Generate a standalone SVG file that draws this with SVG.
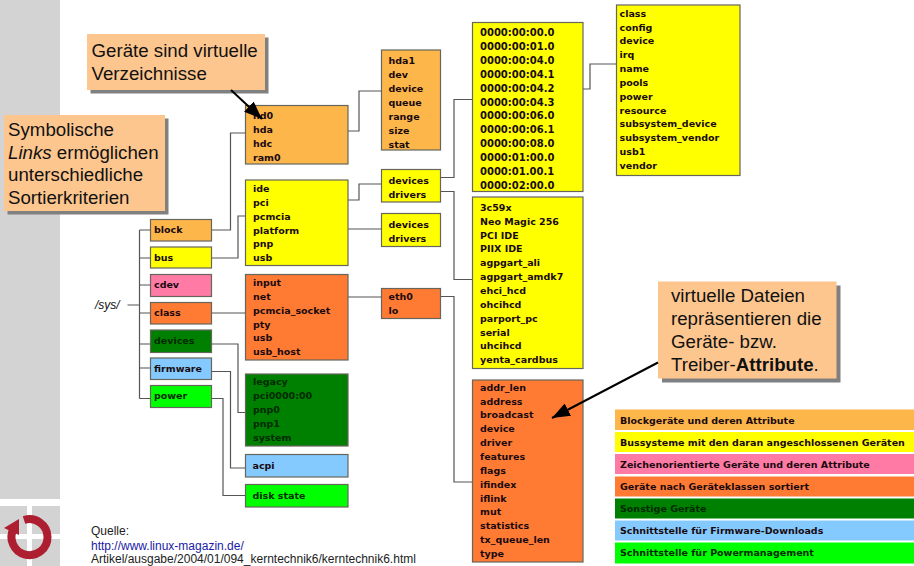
<svg xmlns="http://www.w3.org/2000/svg" width="914" height="566" viewBox="0 0 914 566">
<style>
.b{stroke:#66665c;stroke-width:1.2}
.lo{fill:#fdb64a}.ye{fill:#ffff00}.pi{fill:#ff7ba5}.or{fill:#ff7b33}.dg{fill:#008000}.lb{fill:#84caff}.gr{fill:#00ff00}
text{font-family:"Liberation Sans",Arial,sans-serif}
.t{font-family:"DejaVu Sans",sans-serif;font-weight:700;font-size:9.5px;fill:#1a0a10}
.d{fill:#002a00}
.c{font-size:18.7px;fill:#111}
.q{font-size:12px;fill:#222}
.l{fill:none;stroke:#555;stroke-width:1.2}
.sh{fill:#808080}.co{fill:#fdc68f}
</style>
<defs><marker id="ah" markerWidth="9" markerHeight="7" refX="9" refY="3.500" orient="auto"><path d="M0 0L9 3.500L0 7z" fill="#000"/></marker></defs>
<g id="sidebar">
<rect x="0" y="0" width="60" height="499" fill="#d3d3d3"/>
<rect x="0" y="506" width="60" height="60" fill="#d3d3d3"/>
<rect x="27" y="506" width="5" height="60" fill="#fff"/>
<rect x="0" y="534" width="60" height="5" fill="#fff"/>
<path d="M24 520A18 18 0 1 1 14 528" fill="none" stroke="#ad1f30" stroke-width="8"/>
<path d="M4 528L19 519L19 535z" fill="#ad1f30"/>
</g>
<g id="connectors">
<path class="l" d="M127.500 305H139.500M139.500 230V398.500M139.500 230H150M139.500 258H150M139.500 285H150M139.500 313H150M139.500 344H150M139.500 368H150M139.500 398.500H150"/>
<path class="l" d="M212 230H230.500V133H245"/>
<path class="l" d="M212 258H238V216H245"/>
<path class="l" d="M212 313H245"/>
<path class="l" d="M212 344H238V412.500H245"/>
<path class="l" d="M212 371.500H230.500V468H245"/>
<path class="l" d="M212 398.500H223V495.500H245"/>
<path class="l" d="M285 131H359V91H381"/>
<path class="l" d="M276 200H359V184H381"/>
<path class="l" d="M311 229H381"/>
<path class="l" d="M280 297H381"/>
<path class="l" d="M432 177.500H454V99.500H472"/>
<path class="l" d="M429 191.500H454V279.500H472"/>
<path class="l" d="M425 296.500H454V482H472"/>
<path class="l" d="M560 89H590V64H616"/>
</g>
<g id="n-block"><rect class="b lo" x="150.500" y="219.500" width="61" height="21.500"/><text class="t" x="154" y="233">block</text></g>
<g id="n-bus"><rect class="b ye" x="150.500" y="247" width="61" height="21"/><text class="t" x="154" y="260.500">bus</text></g>
<g id="n-cdev"><rect class="b pi" x="150.500" y="274.500" width="61" height="22"/><text class="t" x="154" y="288">cdev</text></g>
<g id="n-class"><rect class="b or" x="150.500" y="302.500" width="61" height="21.500"/><text class="t" x="154" y="316">class</text></g>
<g id="n-devices"><rect class="b dg" x="150.500" y="330" width="61" height="22.500"/><text class="t d" x="154" y="343.500">devices</text></g>
<g id="n-firmware"><rect class="b lb" x="150.500" y="358" width="61" height="21.500"/><text class="t" x="154" y="371.500">firmware</text></g>
<g id="n-power"><rect class="b gr" x="150.500" y="385.500" width="61" height="22"/><text class="t d" x="154" y="399">power</text></g>
<g id="n-sys"><text x="95" y="309" font-size="12" font-style="italic" fill="#111">/sys/</text></g>
<g id="n-hd"><rect class="b lo" x="245.500" y="105.500" width="102.500" height="58.500"/>
<text class="t" x="253" y="119">hd0</text><text class="t" x="253" y="133">hda</text><text class="t" x="253" y="147">hdc</text><text class="t" x="253" y="160.500">ram0</text></g>
<g id="n-hda1"><rect class="b lo" x="381.500" y="50" width="59" height="100"/>
<text class="t" x="388.500" y="64">hda1</text><text class="t" x="388.500" y="77.500">dev</text><text class="t" x="388.500" y="91.500">device</text><text class="t" x="388.500" y="105.500">queue</text><text class="t" x="388.500" y="119.500">range</text><text class="t" x="388.500" y="133.500">size</text><text class="t" x="388.500" y="147.500">stat</text></g>
<g id="n-buslist"><rect class="b ye" x="245.500" y="180" width="102.500" height="85.500"/>
<text class="t" x="253" y="191.500">ide</text><text class="t" x="253" y="205.500">pci</text><text class="t" x="253" y="219.500">pcmcia</text><text class="t" x="253" y="233.500">platform</text><text class="t" x="253" y="247">pnp</text><text class="t" x="253" y="260.500">usb</text></g>
<g id="n-pcidd"><rect class="b ye" x="381.500" y="169.500" width="59" height="32.500"/>
<text class="t" x="388.500" y="183.500">devices</text><text class="t" x="388.500" y="197.500">drivers</text></g>
<g id="n-platdd"><rect class="b ye" x="381.500" y="213.500" width="59" height="33"/>
<text class="t" x="388.500" y="227.500">devices</text><text class="t" x="388.500" y="241.500">drivers</text></g>
<g id="n-classlist"><rect class="b or" x="245.500" y="274.500" width="102.500" height="85.500"/>
<text class="t" x="253" y="286">input</text><text class="t" x="253" y="299.500">net</text><text class="t" x="253" y="313.500">pcmcia_socket</text><text class="t" x="253" y="327.500">pty</text><text class="t" x="253" y="340.500">usb</text><text class="t" x="253" y="354.500">usb_host</text></g>
<g id="n-eth"><rect class="b or" x="381.500" y="288.500" width="59" height="30"/>
<text class="t" x="388.500" y="299.500">eth0</text><text class="t" x="388.500" y="313.500">lo</text></g>
<g id="n-devlist"><rect class="b dg" x="245.500" y="374" width="102.500" height="72"/>
<text class="t d" x="253" y="385">legacy</text><text class="t d" x="253" y="399">pci0000:00</text><text class="t d" x="253" y="413">pnp0</text><text class="t d" x="253" y="426.500">pnp1</text><text class="t d" x="253" y="440.500">system</text></g>
<g id="n-acpi"><rect class="b lb" x="245.500" y="454.500" width="102.500" height="22.500"/><text class="t" x="252.500" y="468.500">acpi</text></g>
<g id="n-disk"><rect class="b gr" x="245.500" y="484.500" width="102.500" height="22.500"/><text class="t d" x="252.500" y="499">disk state</text></g>
<g id="n-pcilist"><rect class="b ye" x="472.500" y="22.500" width="110.500" height="169"/>
<g style="font-size:10px"><text class="t" style="font-size:10px" x="480" y="35.500">0000:00:00.0</text><text class="t" style="font-size:10px" x="480" y="49.500">0000:00:01.0</text><text class="t" style="font-size:10px" x="480" y="64">0000:00:04.0</text><text class="t" style="font-size:10px" x="480" y="77.500">0000:00:04.1</text><text class="t" style="font-size:10px" x="480" y="91.500">0000:00:04.2</text><text class="t" style="font-size:10px" x="480" y="105.500">0000:00:04.3</text><text class="t" style="font-size:10px" x="480" y="119">0000:00:06.0</text><text class="t" style="font-size:10px" x="480" y="132.500">0000:00:06.1</text><text class="t" style="font-size:10px" x="480" y="146.500">0000:00:08.0</text><text class="t" style="font-size:10px" x="480" y="160.500">0000:01:00.0</text><text class="t" style="font-size:10px" x="480" y="174.500">0000:01.00.1</text><text class="t" style="font-size:10px" x="480" y="188.500">0000:02:00.0</text></g></g>
<g id="n-drivers"><rect class="b ye" x="472.500" y="197" width="110.500" height="171.500"/>
<text class="t" x="480" y="210.500">3c59x</text><text class="t" x="480" y="224.500">Neo Magic 256</text><text class="t" x="480" y="238.500">PCI IDE</text><text class="t" x="480" y="252">PIIX IDE</text><text class="t" x="480" y="266">agpgart_ali</text><text class="t" x="480" y="280">agpgart_amdk7</text><text class="t" x="480" y="294">ehci_hcd</text><text class="t" x="480" y="307.500">ohcihcd</text><text class="t" x="480" y="321.500">parport_pc</text><text class="t" x="480" y="335.500">serial</text><text class="t" x="480" y="349">uhcihcd</text><text class="t" x="480" y="363">yenta_cardbus</text></g>
<g id="n-attrs"><rect class="b ye" x="616.500" y="5" width="123.500" height="170.500"/>
<text class="t" x="619.500" y="16.500">class</text><text class="t" x="619.500" y="30.500">config</text><text class="t" x="619.500" y="44">device</text><text class="t" x="619.500" y="58">irq</text><text class="t" x="619.500" y="72">name</text><text class="t" x="619.500" y="85.500">pools</text><text class="t" x="619.500" y="99.500">power</text><text class="t" x="619.500" y="113.500">resource</text><text class="t" x="619.500" y="127">subsystem_device</text><text class="t" x="619.500" y="141">subsystem_vendor</text><text class="t" x="619.500" y="154.500">usb1</text><text class="t" x="619.500" y="168.500">vendor</text></g>
<g id="n-netattrs"><rect class="b or" x="472.500" y="380" width="110.500" height="182"/>
<text class="t" x="480" y="390.500">addr_len</text><text class="t" x="480" y="404.500">address</text><text class="t" x="480" y="418">broadcast</text><text class="t" x="480" y="432">device</text><text class="t" x="480" y="446">driver</text><text class="t" x="480" y="460">features</text><text class="t" x="480" y="473.500">flags</text><text class="t" x="480" y="487.500">ifindex</text><text class="t" x="480" y="501.500">iflink</text><text class="t" x="480" y="515">mut</text><text class="t" x="480" y="529">statistics</text><text class="t" x="480" y="543">tx_queue_len</text><text class="t" x="480" y="556.500">type</text></g>
<g id="legend">
<rect class="lo" x="615" y="409.500" width="299" height="20.500"/><text class="t" x="620" y="424">Blockgeräte und deren Attribute</text>
<rect class="ye" x="615" y="432" width="299" height="20"/><text class="t" x="620" y="446">Bussysteme mit den daran angeschlossenen Geräten</text>
<rect class="pi" x="615" y="454" width="299" height="20"/><text class="t" x="620" y="468">Zeichenorientierte Geräte und deren Attribute</text>
<rect class="or" x="615" y="476.500" width="299" height="20"/><text class="t" x="620" y="490">Geräte nach Geräteklassen sortiert</text>
<rect class="dg" x="615" y="498.500" width="299" height="20"/><text class="t d" x="620" y="512">Sonstige Geräte</text>
<rect class="lb" x="615" y="520.500" width="299" height="20"/><text class="t" x="620" y="534">Schnittstelle für Firmware-Downloads</text>
<rect class="gr" x="615" y="542.500" width="299" height="21"/><text class="t d" x="620" y="556">Schnittstelle für Powermanagement</text>
</g>
<g id="callout-geraete">
<rect class="sh" x="90.500" y="37.500" width="178" height="56"/><rect class="co" x="87" y="34" width="178" height="56"/>
<text class="c" x="91.500" y="57">Geräte sind virtuelle</text><text class="c" x="91.500" y="80">Verzeichnisse</text>
<line x1="231" y1="90" x2="262" y2="119" stroke="#000" stroke-width="2" marker-end="url(#ah)"/>
</g>
<g id="callout-links">
<rect class="sh" x="7.500" y="118.500" width="161" height="96"/><rect class="co" x="4" y="115" width="161" height="96"/>
<text class="c" x="8" y="136">Symbolische</text><text class="c" x="8" y="159"><tspan font-style="italic">Links</tspan> ermöglichen</text><text class="c" x="8" y="181">unterschiedliche</text><text class="c" x="8" y="204">Sortierkriterien</text>
</g>
<g id="callout-dateien">
<rect class="sh" x="662" y="285.500" width="178.500" height="97"/><rect class="co" x="658" y="281.500" width="178.500" height="97"/>
<text class="c" x="671" y="302">virtuelle Dateien</text><text class="c" x="671" y="325">repräsentieren die</text><text class="c" x="671" y="348">Geräte- bzw.</text><text class="c" x="671" y="371">Treiber-<tspan font-weight="700">Attribute</tspan>.</text>
<line x1="658" y1="362.500" x2="552" y2="418" stroke="#000" stroke-width="2" marker-end="url(#ah)"/>
</g>
<g id="source">
<text class="q" x="91" y="535">Quelle:</text>
<text class="q" x="91" y="550" style="fill:#1a1aa6">http://www.linux-magazin.de/</text>
<text class="q" x="91" y="563">Artikel/ausgabe/2004/01/094_kerntechnik6/kerntechnik6.html</text>
</g>
</svg>
